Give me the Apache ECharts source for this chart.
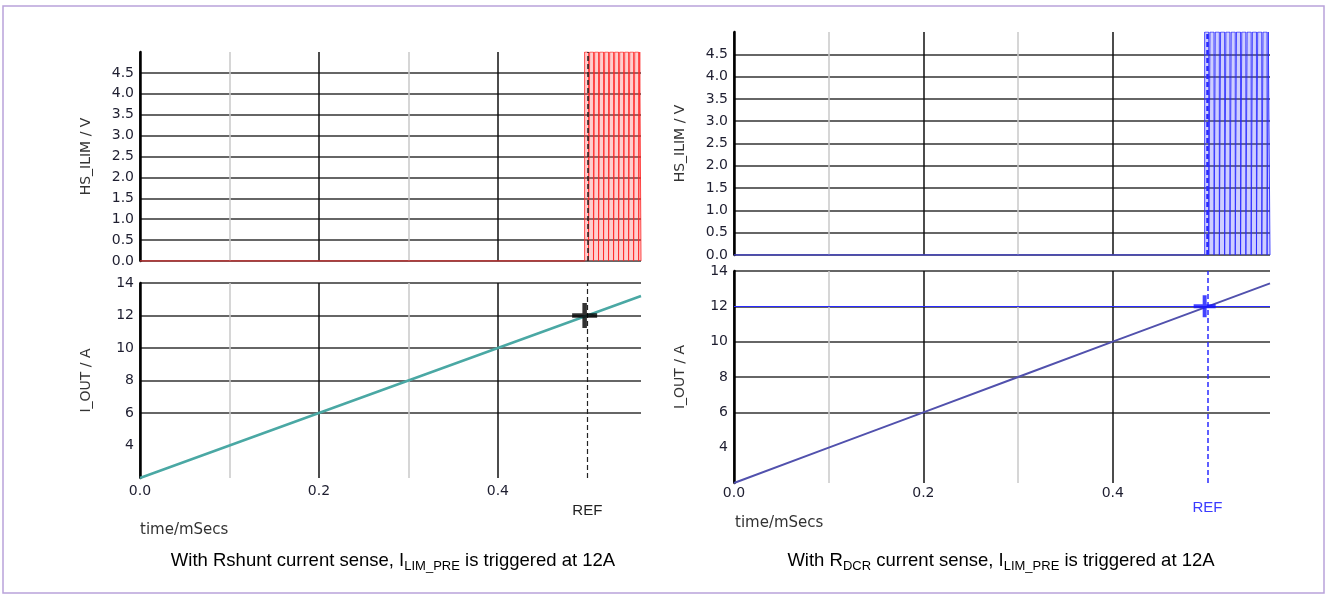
<!DOCTYPE html>
<html lang="en">
  <head>
    <meta charset="utf-8" />
    <title>HS_ILIM / I_OUT</title>
    <script src="https://cdn.jsdelivr.net/npm/echarts@6/dist/echarts.min.js"></script>
    <style>
      html, body { margin: 0; padding: 0; background: #fff; }
    </style>
  </head>
  <body>
    <div id="main" style="width: 1328px;height:595px;"></div>
    <script type="text/javascript">
      // values
      var REF_T = 0.497;           // cursor time, mSecs
      var REF_I = 12;              // cursor current, A
      var PULSE_HIGH = 5;          // V
      var PULSE_WIDTH = 0.0043;    // mSecs

      var leftTimeMax = 0.56;
      var leftTime = [0, 0.1, 0.2, 0.3, 0.4, 0.56];
      var leftCurrent = [2, 4, 6, 8, 10, 13.2];
      var leftPulseStarts = [0.497, 0.5026, 0.5082, 0.5138, 0.5194, 0.525, 0.5306, 0.5362, 0.5418, 0.5474, 0.553, 0.5586];

      var rightTimeMax = 0.566;
      var rightTime = [0, 0.1, 0.2, 0.3, 0.4, 0.566];
      var rightCurrent = [2, 4, 6, 8, 10, 13.3];
      var rightPulseStarts = [0.497, 0.5026, 0.5082, 0.5138, 0.5194, 0.525, 0.5306, 0.5362, 0.5418, 0.5474, 0.553, 0.5586, 0.5642];

      var voltTicks = { min: 0, max: 5, interval: 0.5 };
      var currTicks = { min: 2, max: 14, interval: 2 };

      var leftCaption = '{n|With Rshunt current sense, I}{s|LIM_PRE}{n| is triggered at 12A}';
      var rightCaption = '{n|With R}{s|DCR}{n| current sense, I}{s|LIM_PRE}{n| is triggered at 12A}';

      var labelFont = 'DejaVu Sans';
      var labelColor = '#1e1e30';
      var clear = 'rgba(0,0,0,0)';

      function pairs(xs, ys) {
        return xs.map(function (x, i) { return [x, ys[i]]; });
      }
      function pulseData(starts, end) {
        var d = [];
        starts.forEach(function (s) {
          var e = Math.min(s + PULSE_WIDTH, end);
          d.push([s, 0], [s, PULSE_HIGH], [e, PULSE_HIGH], [e, 0]);
        });
        return d;
      }

      function xAxisFor(grid, max, showLabels, margin) {
        return {
          type: 'value', gridIndex: grid, min: 0, max: max, interval: 0.1,
          axisLine: { show: false }, axisTick: { show: false },
          axisLabel: {
            show: showLabels, margin: margin, showMaxLabel: false,
            fontFamily: labelFont, fontSize: 14, color: labelColor,
            formatter: function (v) { return Math.round(v * 10) % 2 === 0 ? v.toFixed(1) : ''; }
          },
          splitLine: {
            show: true, showMaxLine: false,
            lineStyle: { width: 1.5, color: ['#000', '#c8c8c8', '#111', '#c8c8c8', '#111', clear, clear] }
          }
        };
      }
      function yAxisFor(grid, t, name, top) {
        var colors = [];
        var n = Math.round((t.max - t.min) / t.interval) + 1;
        for (var i = 0; i < n; i++) colors.push('#333');
        if (top) colors[n - 1] = clear; else colors[0] = clear;
        return {
          type: 'value', gridIndex: grid, min: t.min, max: t.max, interval: t.interval,
          name: name, nameLocation: 'middle', nameGap: 47,
          nameTextStyle: { fontFamily: labelFont, fontSize: 14, color: '#333' },
          axisLine: { show: true, lineStyle: { color: '#000', width: 2.5 } },
          axisTick: { show: false },
          axisLabel: {
            showMaxLabel: !top, showMinLabel: top, margin: 6,
            fontFamily: labelFont, fontSize: 14, color: labelColor,
            formatter: function (v) { return top ? v.toFixed(1) : String(v); }
          },
          splitLine: {
            show: true, showMinLine: top, showMaxLine: !top,
            lineStyle: { width: 1.6, color: colors }
          }
        };
      }

      var crossPath = 'path://M0,41L100,41L100,59L0,59Z M41,0L59,0L59,100L41,100Z';

      function panelSeries(g, opt) {
        var bottomMarks = [{
          xAxis: REF_T,
          lineStyle: { type: [5, 3], color: opt.refColor, width: opt.refWidthBottom },
          label: {
            show: true, position: 'start', formatter: 'REF', distance: opt.refLabelGap,
            fontFamily: 'Liberation Sans', fontSize: 15, color: opt.refLabelColor
          }
        }];
        if (opt.cursorLine) {
          bottomMarks.push({
            yAxis: REF_I,
            lineStyle: { type: 'solid', color: opt.refColor, width: 1 },
            label: { show: false }
          });
        }
        return [
          {
            type: 'line', xAxisIndex: g, yAxisIndex: g, showSymbol: false, silent: true,
            data: pulseData(opt.pulses, opt.max),
            lineStyle: { color: opt.pulseLine, width: 1 },
            areaStyle: { color: opt.pulseFill, origin: 0 },
            markLine: {
              silent: true, symbol: ['none', 'none'], label: { show: false },
              data: [{ xAxis: REF_T, lineStyle: { type: [5, 3], color: opt.refColor, width: opt.refWidthTop } }]
            }
          },
          {
            type: 'line', xAxisIndex: g, yAxisIndex: g, showSymbol: false, silent: true,
            data: [[0, 0], [REF_T, 0]],
            lineStyle: { color: opt.traceColor, width: 1.5 }
          },
          {
            type: 'line', xAxisIndex: g + 1, yAxisIndex: g + 1, showSymbol: false, silent: true,
            data: pairs(opt.time, opt.current),
            lineStyle: { color: opt.currentColor, width: opt.currentWidth },
            markLine: { silent: true, symbol: ['none', 'none'], data: bottomMarks }
          },
          {
            type: 'scatter', xAxisIndex: g + 1, yAxisIndex: g + 1, silent: true, z: 10,
            data: [[REF_T, REF_I]],
            symbol: crossPath, symbolSize: opt.crossSize,
            itemStyle: { color: opt.crossColor }
          }
        ];
      }

      var captionRich = {
        n: { fontFamily: 'Liberation Sans', fontSize: 18.5, fill: '#000', lineHeight: 24, verticalAlign: 'bottom' },
        s: { fontFamily: 'Liberation Sans', fontSize: 13, fill: '#000', lineHeight: 24, verticalAlign: 'bottom', padding: [0, 0, -3, 0] }
      };

      var chartDom = document.getElementById('main');
      var myChart = echarts.init(chartDom);
      var option = {
        animation: false,
        backgroundColor: '#fff',
        grid: [
          { left: 140, top: 52, width: 501, height: 209, outerBoundsMode: 'none' },
          { left: 140, top: 283, width: 501, height: 195, outerBoundsMode: 'none' },
          { left: 734, top: 32, width: 536, height: 223, outerBoundsMode: 'none' },
          { left: 734, top: 271, width: 536, height: 212, outerBoundsMode: 'none' }
        ],
        xAxis: [
          xAxisFor(0, leftTimeMax, false, 6),
          xAxisFor(1, leftTimeMax, true, 6),
          xAxisFor(2, rightTimeMax, false, 3),
          xAxisFor(3, rightTimeMax, true, 3)
        ],
        yAxis: [
          yAxisFor(0, voltTicks, 'HS_ILIM / V', true),
          yAxisFor(1, currTicks, 'I_OUT / A', false),
          yAxisFor(2, voltTicks, 'HS_ILIM / V', true),
          yAxisFor(3, currTicks, 'I_OUT / A', false)
        ],
        series: [].concat(
          panelSeries(0, {
            max: leftTimeMax, pulses: leftPulseStarts, time: leftTime, current: leftCurrent,
            pulseLine: 'rgba(255,40,40,0.85)', pulseFill: 'rgba(255,100,100,0.45)',
            traceColor: '#c83030', currentColor: '#4aa8a4', currentWidth: 2.5,
            refColor: '#222', refWidthTop: 1.5, refWidthBottom: 1.2,
            refLabelColor: '#222', refLabelGap: 25, cursorLine: false,
            crossColor: '#000', crossSize: 25
          }),
          panelSeries(2, {
            max: rightTimeMax, pulses: rightPulseStarts, time: rightTime, current: rightCurrent,
            pulseLine: 'rgba(40,40,255,0.85)', pulseFill: 'rgba(100,100,255,0.45)',
            traceColor: '#4444cc', currentColor: '#5151ad', currentWidth: 2,
            refColor: '#2a2aff', refWidthTop: 2.5, refWidthBottom: 1.5,
            refLabelColor: '#3a3aff', refLabelGap: 17, cursorLine: true,
            crossColor: '#1414ff', crossSize: 22
          })
        ),
        graphic: [
          {
            type: 'rect', silent: true,
            shape: { x: 3, y: 6, width: 1321, height: 587 },
            style: { fill: 'none', stroke: '#b9a3da', lineWidth: 1.5 }
          },
          {
            type: 'text', x: 140, y: 530,
            style: { text: 'time/mSecs', font: '15px "DejaVu Sans"', fill: '#333', textVerticalAlign: 'middle' }
          },
          {
            type: 'text', x: 735, y: 523,
            style: { text: 'time/mSecs', font: '15px "DejaVu Sans"', fill: '#333', textVerticalAlign: 'middle' }
          },
          {
            type: 'text', x: 393, y: 558,
            style: { text: leftCaption, rich: captionRich, align: 'center', verticalAlign: 'middle' }
          },
          {
            type: 'text', x: 1001, y: 558,
            style: { text: rightCaption, rich: captionRich, align: 'center', verticalAlign: 'middle' }
          }
        ]
      };

      option && myChart.setOption(option);
    </script>
  </body>
</html>
